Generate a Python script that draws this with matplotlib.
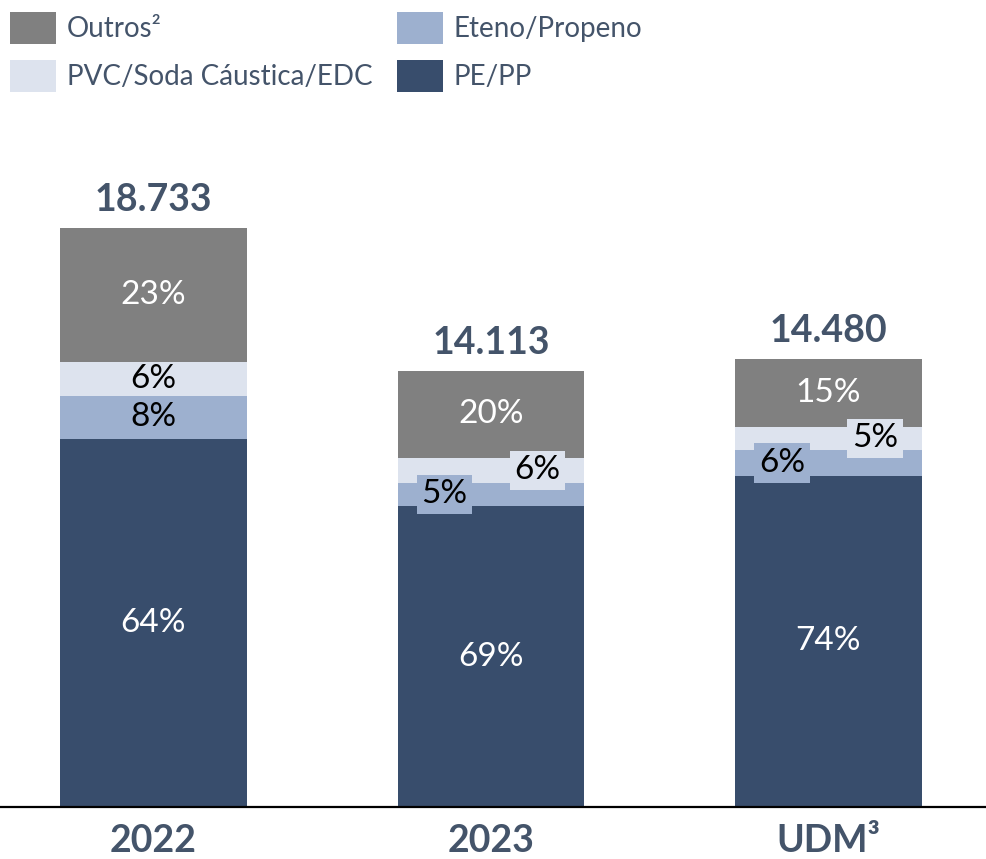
import matplotlib
matplotlib.use("Agg")
import matplotlib.pyplot as plt
from matplotlib.patches import Rectangle
import numpy as np

plt.rcParams['font.family'] = ['Lato', 'DejaVu Sans']

# data
periods = ["2022", "2023", "UDM³"]
totals = [18733, 14113, 14480]
total_labels = ["18.733", "14.113", "14.480"]
segments = ["PE/PP", "Eteno/Propeno", "PVC/Soda Cáustica/EDC", "Outros²"]
share_pe = [0.636, 0.690, 0.740]
share_eteno = [0.074, 0.053, 0.058]
share_pvc = [0.059, 0.057, 0.052]
share_outros = [0.231, 0.200, 0.150]
label_pe = ["64%", "69%", "74%"]
label_eteno = ["8%", "5%", "6%"]
label_pvc = ["6%", "6%", "5%"]
label_outros = ["23%", "20%", "15%"]

colors = {"PE/PP": "#384d6c", "Eteno/Propeno": "#9db0cf",
          "PVC/Soda Cáustica/EDC": "#dde3ee", "Outros²": "#808080"}
text_color = "#44546a"

W, H = 987, 859
fig = plt.figure(figsize=(W / 100, H / 100), dpi=100)
ax = fig.add_axes([0, 52 / H, 1, 647 / H])

x = np.arange(len(periods))
shares = [share_pe, share_eteno, share_pvc, share_outros]
labels = [label_pe, label_eteno, label_pvc, label_outros]
txt_col = ["white", "black", "black", "white"]
totals = np.array(totals, dtype=float)
bottom = np.zeros(len(periods))
for seg, sh, lab, tc in zip(segments, shares, labels, txt_col):
    h = totals * np.array(sh)
    ax.bar(x, h, bottom=bottom, width=0.554, color=colors[seg], linewidth=0)
    for i in range(len(periods)):
        yc = bottom[i] + h[i] / 2
        small = seg in ("Eteno/Propeno", "PVC/Soda Cáustica/EDC") and i > 0
        if small:
            dx = -0.138 if seg == "Eteno/Propeno" else 0.138
            ax.text(x[i] + dx, yc, lab[i], ha="center", va="center", fontsize=24,
                    color=tc, bbox=dict(boxstyle="square,pad=0.14",
                                        facecolor=colors[seg], edgecolor="none"))
        else:
            ax.text(x[i], yc, lab[i], ha="center", va="center", fontsize=24, color=tc)
    bottom += h

for i in range(len(periods)):
    ax.annotate(total_labels[i], (x[i], totals[i]), xytext=(0, 8),
                textcoords="offset points", ha="center", va="bottom",
                fontsize=27, fontweight="bold", color=text_color)

ax.set_xlim(-153.5 / 337.5, (W - 153.5) / 337.5)
ax.set_ylim(0, 647 * 18733 / 579)
ax.set_xticks(x, periods)
ax.tick_params(axis="x", length=0, pad=12, labelsize=27, labelcolor=text_color)
for t in ax.get_xticklabels():
    t.set_fontweight("bold")
ax.set_yticks([])
for s in ["top", "left", "right"]:
    ax.spines[s].set_visible(False)
ax.spines["bottom"].set_linewidth(1.6)
ax.spines["bottom"].set_color("black")

# legend drawn in pixel positions
legend_items = [("Outros²", 10, 12), ("PVC/Soda Cáustica/EDC", 10, 60),
                ("Eteno/Propeno", 397, 12), ("PE/PP", 397, 60)]
for name, px, py in legend_items:
    fig.add_artist(Rectangle((px / W, 1 - (py + 32) / H), 46 / W, 32 / H,
                             transform=fig.transFigure, facecolor=colors[name],
                             edgecolor="none"))
    fig.text((px + 57) / W, 1 - (py + 17) / H, name, ha="left", va="center",
             fontsize=20, color=text_color)

fig.savefig("out.png", dpi=100)
